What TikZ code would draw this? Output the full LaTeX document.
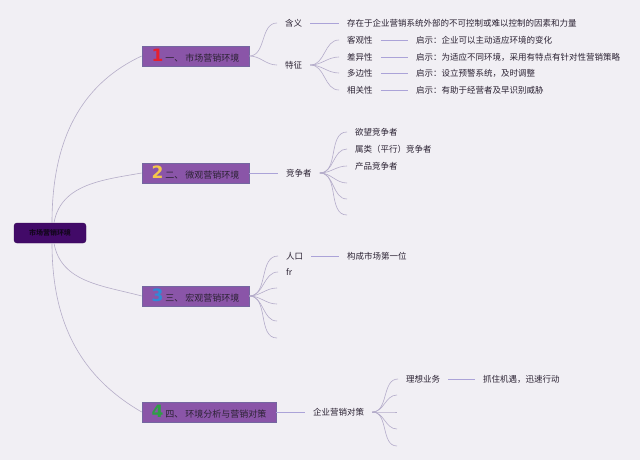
\documentclass[tikz,border=0pt]{standalone}
\usepackage{fontspec}
\setmainfont{Noto Sans CJK SC}
\newfontfamily\numfont{DejaVu Sans}
\usepackage{xcolor}
\usetikzlibrary{positioning, calc}

\definecolor{bgcol}{HTML}{F1EFF4}
\definecolor{rootfill}{HTML}{420A68}
\definecolor{rootdark}{HTML}{14061E}
\definecolor{branchfill}{HTML}{8A55A8}
\definecolor{branchline}{HTML}{7466A0}
\definecolor{curvecol}{HTML}{B5ADC8}
\definecolor{linkcol}{HTML}{ABA3D8}
\definecolor{txtcol}{HTML}{2B2233}
\definecolor{numred}{HTML}{E5202E}
\definecolor{numyellow}{HTML}{F4C84A}
\definecolor{numblue}{HTML}{2F8AD6}
\definecolor{numgreen}{HTML}{2E9E45}

\newcommand{\branchnum}[2]{{\numfont\bfseries\fontsize{17}{17}\selectfont\color{#1}#2}}

\begin{document}
\begin{tikzpicture}[x=1pt, y=-1pt,
  rootbox/.style={rectangle, rounded corners=3pt, fill=rootfill, draw=rootfill!80!black, minimum width=72pt, minimum height=20pt, inner sep=2pt, text=rootdark, font=\fontsize{7}{8}\selectfont\bfseries},
  branchbox/.style={rectangle, fill=branchfill, draw=branchline, line width=0.6pt, minimum height=20pt, inner sep=1pt, text=txtcol, font=\fontsize{9}{10}\selectfont},
  leaftext/.style={anchor=west, inner xsep=8pt, inner ysep=2pt, text=txtcol, font=\fontsize{8.5}{10}\selectfont},
  curve/.style={draw=curvecol, line width=0.6pt},
  fan/.style={draw=curvecol!90!linkcol, line width=0.6pt},
  link/.style={draw=linkcol, line width=0.7pt}]
\fill[bgcol] (0,0) rectangle (640,460);
\useasboundingbox (0,0) rectangle (640,460);

% root and main branches
\node[rootbox] (root) at (50,233) {市场营销环境};
\node[branchbox, minimum width=107pt] (market) at (195.5,56) {\branchnum{numred}{1}\ 一、\ 市场营销环境};
\node[branchbox, minimum width=107pt] (micro) at (195.5,173) {\branchnum{numyellow}{2}\ 二、\ 微观营销环境};
\node[branchbox, minimum width=107pt] (macro) at (195.5,296) {\branchnum{numblue}{3}\ 三、\ 宏观营销环境};
\node[branchbox, minimum width=134pt] (policy) at (209,412) {\branchnum{numgreen}{4}\ 四、\ 环境分析与营销对策};

\draw[curve] ([xshift=2pt]root.north) to[out=90, in=205] (market.west);
\draw[curve] ([xshift=4pt]root.north) to[out=80, in=190] (micro.west);
\draw[curve] ([xshift=4pt]root.south) to[out=-80, in=165] (macro.west);
\draw[curve] ([xshift=2pt]root.south) to[out=-90, in=150] (policy.west);

% 1 market environment
\node[leaftext] (meaning) at (277,23) {含义};
\node[leaftext] (meaningD) at (339,23) {存在于企业营销系统外部的不可控制或难以控制的因素和力量};
\node[leaftext] (traits) at (277,65) {特征};
\node[leaftext] (objective) at (339,40) {客观性};
\node[leaftext] (objectiveD) at (408,40) {启示：企业可以主动适应环境的变化};
\node[leaftext] (diverse) at (339,57) {差异性};
\node[leaftext] (diverseD) at (408,57) {启示：为适应不同环境，采用有特点有针对性营销策略};
\node[leaftext] (variable) at (339,73) {多边性};
\node[leaftext] (variableD) at (408,73) {启示：设立预警系统，及时调整};
\node[leaftext] (related) at (339,90) {相关性};
\node[leaftext] (relatedD) at (408,90) {启示：有助于经营者及早识别威胁};

\draw[fan] (market.east) to[out=0, in=180] (meaning.west);
\draw[fan] (market.east) to[out=0, in=180] (traits.west);
\draw[link] (meaning) -- (meaningD);
\foreach \t in {objective, diverse, variable, related} {
  \draw[fan] (traits.east) to[out=0, in=180] (\t.west);
  \draw[link] (\t) -- (\t D);
}

% 2 micro environment
\node[leaftext] (rivals) at (278,173) {竞争者};
\node[leaftext] (desire) at (347,132) {欲望竞争者};
\node[leaftext] (generic) at (347,149) {属类（平行）竞争者};
\node[leaftext] (product) at (347,166) {产品竞争者};
\coordinate (rivalA) at (347,183);
\coordinate (rivalB) at (347,199);
\coordinate (rivalC) at (347,215);

\draw[link] (micro) -- (rivals);
\foreach \t in {desire.west, generic.west, product.west, rivalA, rivalB, rivalC}
  \draw[fan] (rivals.east) to[out=0, in=180] (\t);

% 3 macro environment
\node[leaftext] (people) at (278,256) {人口};
\node[leaftext] (peopleD) at (339,256) {构成市场第一位};
\node[leaftext] (fr) at (278,272) {fr};
\coordinate (macroA) at (277,288);
\coordinate (macroB) at (277,304);
\coordinate (macroC) at (277,321);
\coordinate (macroD) at (277,338);

\draw[link] (people) -- (peopleD);
\foreach \t in {people.west, fr.west, macroA, macroB, macroC, macroD}
  \draw[fan] (macro.east) to[out=0, in=180] (\t);

% 4 analysis and countermeasures
\node[leaftext] (strategy) at (305,412) {企业营销对策};
\node[leaftext] (ideal) at (398,379) {理想业务};
\node[leaftext] (idealD) at (475,379) {抓住机遇，迅速行动};
\coordinate (stratA) at (397,395);
\coordinate (stratB) at (397,412);
\coordinate (stratC) at (397,429);
\coordinate (stratD) at (397,446);

\draw[link] (policy) -- (strategy);
\draw[link] (ideal) -- (idealD);
\foreach \t in {ideal.west, stratA, stratB, stratC, stratD}
  \draw[fan] (strategy.east) to[out=0, in=180] (\t);
\end{tikzpicture}
\end{document}
